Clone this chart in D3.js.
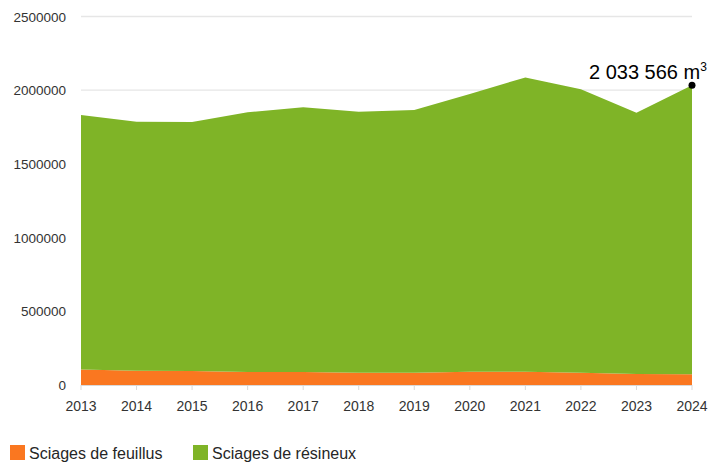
<!DOCTYPE html>
<html>
<head>
<meta charset="utf-8">
<script src="https://cdn.jsdelivr.net/npm/d3@7"></script>
<style>
  body { margin: 0; background: #fff; }
  svg { display: block; font-family: "Liberation Sans", Arial, sans-serif; }
</style>
</head>
<body>
<div id="chart"></div>
<script>
// Data
const years = [2013, 2014, 2015, 2016, 2017, 2018, 2019, 2020, 2021, 2022, 2023, 2024];
const feuillus = [106000, 96000, 95000, 89000, 88000, 83000, 83000, 90000, 90000, 83000, 75000, 73000];
const totals = [1832000, 1786000, 1784000, 1850000, 1884000, 1854000, 1866000, 1974000, 2087000, 2006000, 1847000, 2033566];
const resineux = totals.map((t, i) => t - feuillus[i]);
const yTicks = [0, 500000, 1000000, 1500000, 2000000, 2500000];
const seriesNames = ["Sciages de feuillus", "Sciages de résineux"];
const seriesColors = ["#fa7720", "#7fb427"];

// Dimensions
const w = 718, h = 462;
const svg = d3.select("#chart").append("svg").attr("width", w).attr("height", h);

// Scales
const x = d3.scaleLinear().domain([2013, 2024]).range([81, 692]);
const y = d3.scaleLinear().domain([0, 2500000]).range([385, 16.5]);

// Gridlines
svg.append("g").selectAll("line").data(yTicks.slice(1)).enter().append("line")
  .attr("x1", x(2013)).attr("x2", x(2024))
  .attr("y1", d => y(d)).attr("y2", d => y(d))
  .attr("stroke", "#e6e6e6").attr("stroke-width", 1.3);

// Stacked areas
const rows = years.map((yr, i) => ({ year: yr, f: feuillus[i], r: resineux[i] }));
const stack = d3.stack().keys(["f", "r"])(rows);
const area = d3.area().x(d => x(d.data.year)).y0(d => y(d[0])).y1(d => y(d[1]));
svg.append("g").selectAll("path").data(stack).enter().append("path")
  .attr("d", area).attr("fill", (d, i) => seriesColors[i]);

// X axis line & ticks
svg.append("line").attr("x1", x(2013)).attr("x2", x(2024)).attr("y1", 385.5).attr("y2", 385.5)
  .attr("stroke", "#d9d9d9").attr("stroke-width", 1);
svg.append("g").selectAll("line").data(years).enter().append("line")
  .attr("x1", d => x(d)).attr("x2", d => x(d)).attr("y1", 385).attr("y2", 390)
  .attr("stroke", "#d9d9d9");

// Tick labels
svg.append("g").selectAll("text").data(years).enter().append("text")
  .attr("x", d => x(d)).attr("y", 411).attr("text-anchor", "middle")
  .attr("font-size", 14).attr("fill", "#333").text(d => d);
svg.append("g").selectAll("text").data(yTicks).enter().append("text")
  .attr("x", 66).attr("y", d => y(d) + 5).attr("text-anchor", "end")
  .attr("font-size", 13.5).attr("fill", "#333").text(d => d);

// Annotation on last point
const last = years.length - 1;
svg.append("circle").attr("cx", x(years[last])).attr("cy", y(totals[last])).attr("r", 3.5).attr("fill", "#000");
const label = svg.append("text").attr("x", x(years[last]) - 103).attr("y", y(totals[last]) - 6)
  .attr("font-size", 20).attr("fill", "#000");
label.append("tspan").text(d3.format(",")(totals[last]).replace(/,/g, " ") + " m");
label.append("tspan").attr("font-size", 12).attr("dy", -8).text("3");

// Legend
const legend = svg.append("g").selectAll("g").data(seriesNames).enter().append("g")
  .attr("transform", (d, i) => "translate(" + [10, 193][i] + ",445)");
legend.append("rect").attr("width", 15).attr("height", 15).attr("fill", (d, i) => seriesColors[i]);
legend.append("text").attr("x", 19).attr("y", 14).attr("font-size", 16).attr("fill", "#262626").text(d => d);
</script>
</body>
</html>
